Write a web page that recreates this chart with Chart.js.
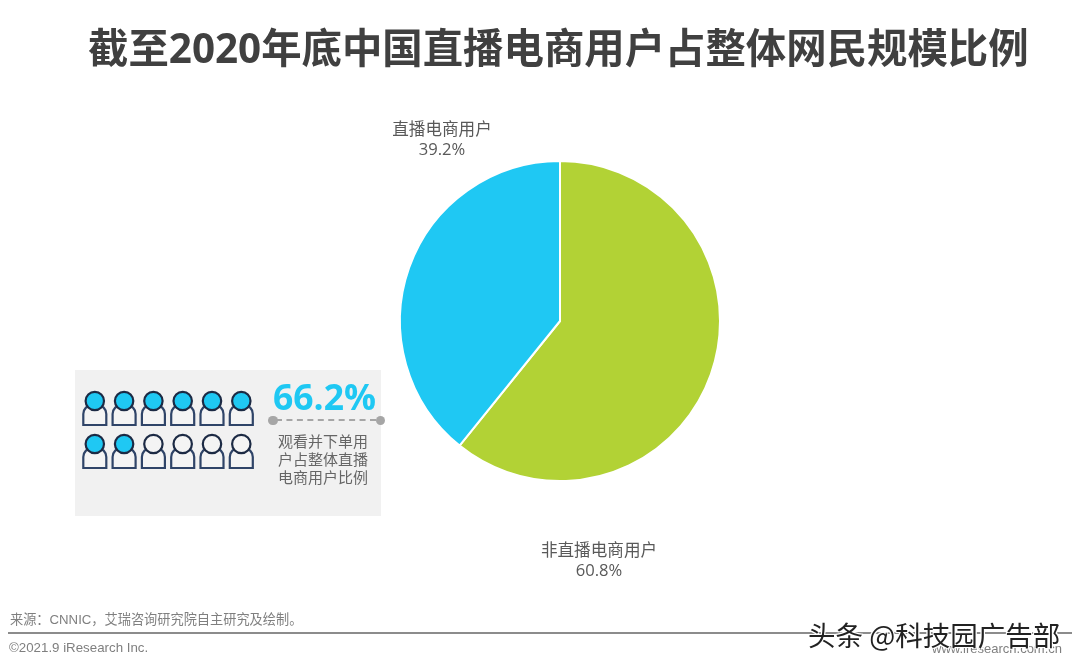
<!DOCTYPE html>
<html>
<head>
<meta charset="utf-8">
<script src="https://cdn.jsdelivr.net/npm/chart.js@4"></script>
<style>
  html, body { margin: 0; padding: 0; background: #fff; }
  body { width: 1080px; height: 668px; position: relative; overflow: hidden; font-family: "Open Sans", "Noto Sans CJK SC", sans-serif; color: #595959; }
  #myChart { position: absolute; left: 0; top: 0; }
  .t { position: absolute; white-space: nowrap; }
  .c { text-align: center; line-height: 20px; font-size: 16.6px; }
  #title { left: 88px; top: 19px; font-size: 40.4px; line-height: 58px; font-weight: 700; color: #404040; }
  #box { position: absolute; left: 75px; top: 370px; width: 306px; height: 146px; background: #f1f1f1; }
  #people { position: absolute; left: 80px; top: 390px; }
  #pct { left: 273px; top: 373px; font: 700 35.5px/46px "Open Sans", sans-serif; color: #1fc8f3; }
  #dash { position: absolute; left: 276px; top: 419px; width: 100px; border-top: 2px dashed #a6a6a6; }
  .dot { position: absolute; top: 415.5px; width: 9.5px; height: 9.5px; border-radius: 50%; background: #a6a6a6; }
  #note { left: 278px; top: 432px; font-size: 15px; line-height: 18px; color: #666; }
  #source { left: 10px; top: 611px; font-family: "Liberation Sans", "Noto Sans CJK SC", sans-serif; font-size: 13.2px; line-height: 18px; color: #7f7f7f; }
  #rule { position: absolute; left: 8px; top: 632px; width: 1064px; height: 2px; background: #8c8c8c; }
  #copy { left: 9px; top: 639px; font: 13.3px/17px "Liberation Sans", sans-serif; color: #7f7f7f; }
  #site { left: 932px; top: 640px; font: 13px/17px "Liberation Sans", sans-serif; color: #7f7f7f; }
  #mark { left: 808px; top: 615px; font-family: "Noto Sans CJK SC", sans-serif; font-size: 27.5px; line-height: 38px; color: #222; text-shadow: 1px 1px 0 #fff, -1px -1px 0 #fff, 1px -1px 0 #fff, -1px 1px 0 #fff; }
</style>
</head>
<body>
<div id="box"></div>
<canvas id="myChart" width="1080" height="668"></canvas>
<div class="t" id="title"></div>
<div class="t c" id="label0" style="left:519px;top:540px;width:160px"></div>
<div class="t c" id="label1" style="left:362px;top:119px;width:160px"></div>
<svg id="people" width="175" height="84"></svg>
<div class="t" id="pct"></div>
<div id="dash"></div>
<div class="dot" style="left:268px"></div>
<div class="dot" style="left:375.5px"></div>
<div class="t" id="note">观看并下单用<br>户占整体直播<br>电商用户比例</div>
<div class="t" id="source">来源：CNNIC，艾瑞咨询研究院自主研究及绘制。</div>
<div id="rule"></div>
<div class="t" id="copy">©2021.9 iResearch Inc.</div>
<div class="t" id="site">www.iresearch.com.cn</div>
<div class="t" id="mark">头条 @科技园广告部</div>
<script>
var titleText = "截至2020年底中国直播电商用户占整体网民规模比例";
var categories = ["非直播电商用户", "直播电商用户"];
var shareValues = [60.8, 39.2];
var sliceColors = ["#b2d235", "#1fc8f3"];
var orderShare = 66.2;
var peopleTotal = 12, peopleFilled = 8;

document.getElementById("title").textContent = titleText;
document.getElementById("pct").textContent = orderShare + "%";
categories.forEach(function (name, i) {
  document.getElementById("label" + i).innerHTML = name + "<br>" + shareValues[i].toFixed(1) + "%";
});

// little people, two rows of six
var svg = "";
for (var i = 0; i < peopleTotal; i++) {
  var x = 14.8 + (i % 6) * 29.3;
  var y = i < 6 ? 11 : 54;
  var fill = i < peopleFilled ? "#1fc8f3" : "#f4f4f4";
  svg += '<path d="M' + (x - 11.5) + ' ' + (y + 24) + 'v-11a9 9 0 0 1 9 -9h5a9 9 0 0 1 9 9v11z" fill="#f4f4f4" stroke="#2f4468" stroke-width="2.2"/>';
  svg += '<circle cx="' + x + '" cy="' + y + '" r="9.2" fill="' + fill + '" stroke="#1c2a44" stroke-width="2.2"/>';
}
document.getElementById("people").innerHTML = svg;

var chart = new Chart("myChart", {
  type: "pie",
  data: {
    labels: categories,
    datasets: [{
      data: shareValues,
      backgroundColor: sliceColors,
      borderColor: "#ffffff",
      borderWidth: 2
    }]
  },
  options: {
    responsive: false,
    animation: false,
    layout: { padding: { left: 399, right: 359, top: 160, bottom: 186 } },
    plugins: {
      legend: { display: false },
      tooltip: { enabled: false }
    }
  }
});
</script>
</body>
</html>
